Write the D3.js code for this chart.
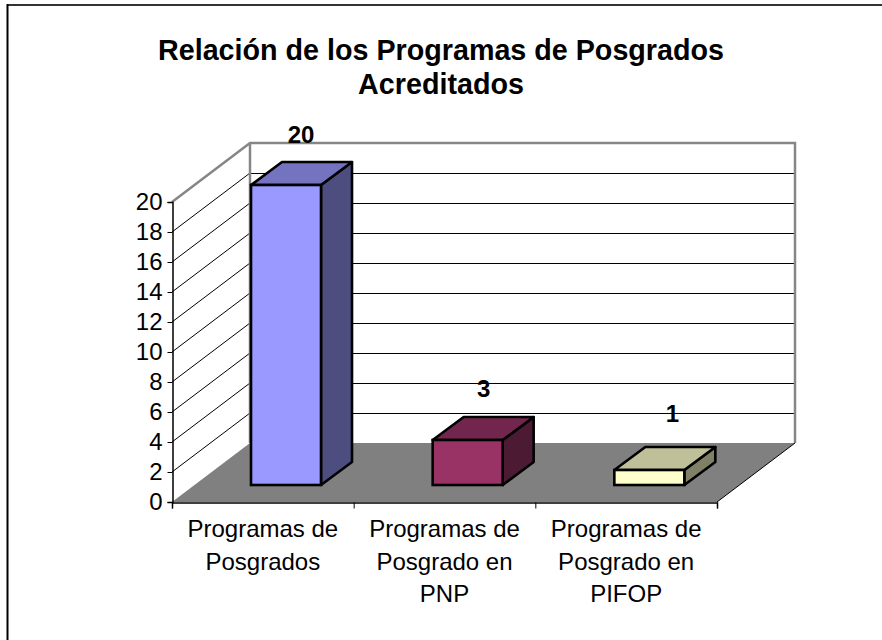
<!DOCTYPE html>
<html><head><meta charset="utf-8">
<script src="https://cdnjs.cloudflare.com/ajax/libs/d3/7.8.5/d3.min.js"></script>
<style>html,body{margin:0;padding:0;background:#fff}svg{display:block}text{font-family:"Liberation Sans",Arial,sans-serif;fill:#000}</style>
</head><body><div id="chart"></div>
<script>
const categories = ["Programas de Posgrados","Programas de Posgrado en PNP","Programas de Posgrado en PIFOP"];
const categoryLines = [["Programas de","Posgrados"],["Programas de","Posgrado en","PNP"],["Programas de","Posgrado en","PIFOP"]];
const values = [20,3,1];
const frontColors = ["#9999FF","#993366","#FFFFCC"];
const topColors = ["#7373BF","#73264D","#BFBF99"];
const sideColors = ["#4D4D80","#4D1A33","#808066"];
const titleLines = ["Relación de los Programas de Posgrados","Acreditados"];
const yTicks = [0,2,4,6,8,10,12,14,16,18,20];
const labelNudge = [[15,-42],[16,-43],[23,-48]];

const W=882,H=640;
const svg=d3.select("#chart").append("svg").attr("width",W).attr("height",H);
const x=d3.scaleBand().domain(categories).range([172,717]);
const y=d3.scaleLinear().domain([0,20]).range([502,202]);
const dx=78,dy=-59;           // wall depth
const bdx=31,bdy=-23;         // bar depth
const barW=70, barInset=79, barLift=17;

// frame
svg.append("line").attr("x1",7).attr("x2",W).attr("y1",5).attr("y2",5).attr("stroke","#333").attr("stroke-width",2);
svg.append("line").attr("x1",7.5).attr("x2",7.5).attr("y1",4).attr("y2",H).attr("stroke","#000").attr("stroke-width",2);

// title
svg.append("g").selectAll("text").data(titleLines).join("text")
 .attr("x",441).attr("y",(d,i)=>60+i*34).attr("text-anchor","middle")
 .attr("font-size",28.7).attr("font-weight","bold").text(d=>d);

const xL=x.range()[0], xR=x.range()[1];
const pts=a=>a.map(p=>p.join(",")).join(" ");
// floor
svg.append("polygon").attr("fill","#808080")
 .attr("points",pts([[xL,y(0)],[xL+dx,y(0)+dy],[xR+dx,y(0)+dy],[xR,y(0)]]));
// grid
const gridV=yTicks.filter(v=>v>0&&v<20);
svg.append("g").selectAll("line").data(gridV).join("line")
 .attr("x1",xL).attr("y1",d=>y(d)).attr("x2",xL+dx).attr("y2",d=>y(d)+dy).attr("stroke","#000").attr("stroke-width",1);
svg.append("g").selectAll("line").data(gridV).join("line")
 .attr("x1",xL+dx).attr("y1",d=>y(d)+dy+.5).attr("x2",xR+dx).attr("y2",d=>y(d)+dy+.5).attr("stroke","#000").attr("stroke-width",1);
// wall outline
svg.append("polyline").attr("fill","none").attr("stroke","#868686").attr("stroke-width",2.5)
 .attr("points",pts([[xL,y(20)],[xL+dx,y(20)+dy],[xR+dx,y(20)+dy],[xR+dx,y(0)+dy]]));
svg.append("line").attr("x1",xL+dx).attr("x2",xL+dx).attr("y1",y(20)+dy).attr("y2",y(0)+dy).attr("stroke","#868686").attr("stroke-width",2.5);
// floor front-right edge
svg.append("line").attr("x1",xR).attr("y1",y(0)).attr("x2",xR+dx).attr("y2",y(0)+dy).attr("stroke","#000").attr("stroke-width",1);

// axes
const yAxis=d3.axisLeft(y).tickValues(yTicks).tickSize(5).tickPadding(5);
const gy=svg.append("g").attr("transform",`translate(${xL+.5},0)`).call(yAxis);
gy.selectAll("text").attr("font-size",24).attr("font-family",'"Liberation Sans"').attr("fill","#000");
gy.selectAll("line,path").attr("stroke","#000");
gy.select("path").attr("stroke-width",1.5);
const xAxis=d3.axisBottom(d3.scalePoint().domain(d3.range(categories.length+1)).range([xL,xR])).tickSize(6).tickFormat("");
const gx=svg.append("g").attr("transform",`translate(0,${y(0)+.5})`).call(xAxis);
gx.selectAll("line,path").attr("stroke","#000");
gx.select("path").attr("stroke-width",1.5);

// category labels
const cat=svg.append("g").selectAll("text").data(categories).join("text")
 .attr("text-anchor","middle").attr("font-size",24)
 .attr("transform",d=>`translate(${x(d)+x.bandwidth()/2},0)`);
cat.selectAll("tspan").data((d,i)=>categoryLines[i]).join("tspan")
 .attr("x",0).attr("y",(d,i)=>537+i*32.5).text(d=>d);

// bars
const bars=svg.append("g").selectAll("g").data(categories).join("g");
const bx=d=>x(d)+barInset;
const bb=y(0)-barLift;
const h=i=>y(0)-y(values[i]);
bars.append("polygon").attr("fill",(d,i)=>sideColors[i]).attr("stroke","#000").attr("stroke-width",2.6).attr("stroke-linejoin","round")
 .attr("points",(d,i)=>pts([[bx(d)+barW,bb],[bx(d)+barW,bb-h(i)],[bx(d)+barW+bdx,bb-h(i)+bdy],[bx(d)+barW+bdx,bb+bdy]]));
bars.append("polygon").attr("fill",(d,i)=>topColors[i]).attr("stroke","#000").attr("stroke-width",2.6).attr("stroke-linejoin","round")
 .attr("points",(d,i)=>pts([[bx(d),bb-h(i)],[bx(d)+bdx,bb-h(i)+bdy],[bx(d)+barW+bdx,bb-h(i)+bdy],[bx(d)+barW,bb-h(i)]]));
bars.append("rect").attr("fill",(d,i)=>frontColors[i]).attr("stroke","#000").attr("stroke-width",2.6)
 .attr("x",bx).attr("y",(d,i)=>bb-h(i)).attr("width",barW).attr("height",(d,i)=>h(i));

// value labels
bars.append("text").attr("text-anchor","middle").attr("font-size",24).attr("font-weight","bold")
 .attr("x",(d,i)=>bx(d)+barW/2+labelNudge[i][0]).attr("y",(d,i)=>bb-h(i)+labelNudge[i][1]).text((d,i)=>values[i]);
</script></body></html>
